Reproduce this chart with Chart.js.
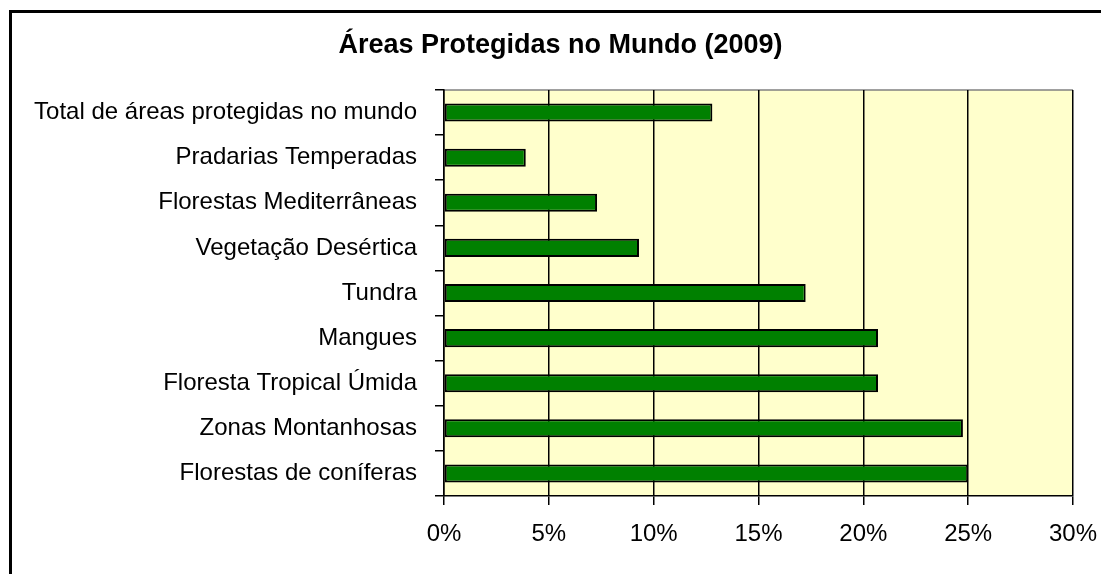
<!DOCTYPE html>
<html>
<head>
<meta charset="utf-8">
<script src="https://cdn.jsdelivr.net/npm/chart.js@4/dist/chart.umd.min.js"></script>
<style>
	html, body { margin: 0; padding: 0; background: #fff; overflow: hidden; }
	#box { position: relative; width: 1101px; height: 574px; }
</style>
</head>
<body>
<div id="box"><canvas id="grafica" width="1101" height="574"></canvas></div>
<script>
const categorias = [
	'Total de áreas protegidas no mundo',
	'Pradarias Temperadas',
	'Florestas Mediterrâneas',
	'Vegetação Desértica',
	'Tundra',
	'Mangues',
	'Floresta Tropical Úmida',
	'Zonas Montanhosas',
	'Florestas de coníferas',
];
const porcentagens = [12.8, 3.9, 7.3, 9.3, 17.25, 20.7, 20.7, 24.75, 25.0];
const ticksX = [0, 5, 10, 15, 20, 25, 30];

(function () {
	const grafica = document.getElementById('grafica');
	const fonte = '"Liberation Sans", Arial, sans-serif';

	// fundo amarelo da área do gráfico e moldura externa
	const moldura = {
		id: 'moldura',
		beforeDraw(chart) {
			const { ctx, chartArea: a } = chart;
			ctx.save();
			ctx.fillStyle = '#fff';
			ctx.fillRect(0, 0, chart.width, chart.height);
			ctx.fillStyle = '#FFFFCC';
			ctx.fillRect(a.left, a.top, a.right - a.left, a.bottom - a.top);
			ctx.strokeStyle = '#808080';
			ctx.lineWidth = 1.5;
			ctx.beginPath();
			ctx.moveTo(a.left, a.top);
			ctx.lineTo(a.right, a.top);
			ctx.stroke();
			ctx.strokeStyle = '#000';
			ctx.lineWidth = 3;
			ctx.beginPath();
			ctx.moveTo(10.5, chart.height + 5);
			ctx.lineTo(10.5, 11.5);
			ctx.lineTo(chart.width + 5, 11.5);
			ctx.stroke();
			ctx.restore();
		},
	};

	new Chart(grafica, {
		type: 'bar',
		data: {
			labels: categorias,
			datasets: [
				{
					label: '',
					data: porcentagens,
					backgroundColor: '#008000',
					borderColor: '#000',
					borderWidth: 2,
					borderSkipped: false,
					categoryPercentage: 1,
					barPercentage: 0.4,
				},
			],
		},
		options: {
			indexAxis: 'y',
			responsive: false,
			animation: false,
			layout: { padding: { left: 20, right: 0, top: 0, bottom: 0 } },
			scales: {
				x: {
					min: 0,
					max: 30,
					afterBuildTicks: (s) => { s.ticks = ticksX.map((v) => ({ value: v })); },
					afterFit: (s) => { s.height = 78; s.paddingRight = 28; },
					border: { display: true, color: '#000', width: 1.5 },
					grid: { color: '#000', lineWidth: 1.5, tickLength: 9, drawOnChartArea: true },
					ticks: {
						color: '#000',
						padding: 15,
						maxRotation: 0,
						font: { family: fonte, size: 24 },
						callback: (v) => v + '%',
					},
				},
				y: {
					afterFit: (s) => { s.width = 424; },
					border: { display: true, color: '#000', width: 1.5 },
					grid: { color: '#000', lineWidth: 1.5, tickLength: 9, drawOnChartArea: false },
					ticks: {
						color: '#000',
						padding: 18,
						font: { family: fonte, size: 24 },
					},
				},
			},
			plugins: {
				legend: { display: false },
				tooltip: { enabled: false },
				title: {
					display: true,
					text: 'Áreas Protegidas no Mundo (2009)',
					color: '#000',
					font: { family: fonte, size: 27, weight: 'bold' },
					padding: { top: 29, bottom: 28.6 },
				},
			},
		},
		plugins: [moldura],
	});
})();
</script>
</body>
</html>
